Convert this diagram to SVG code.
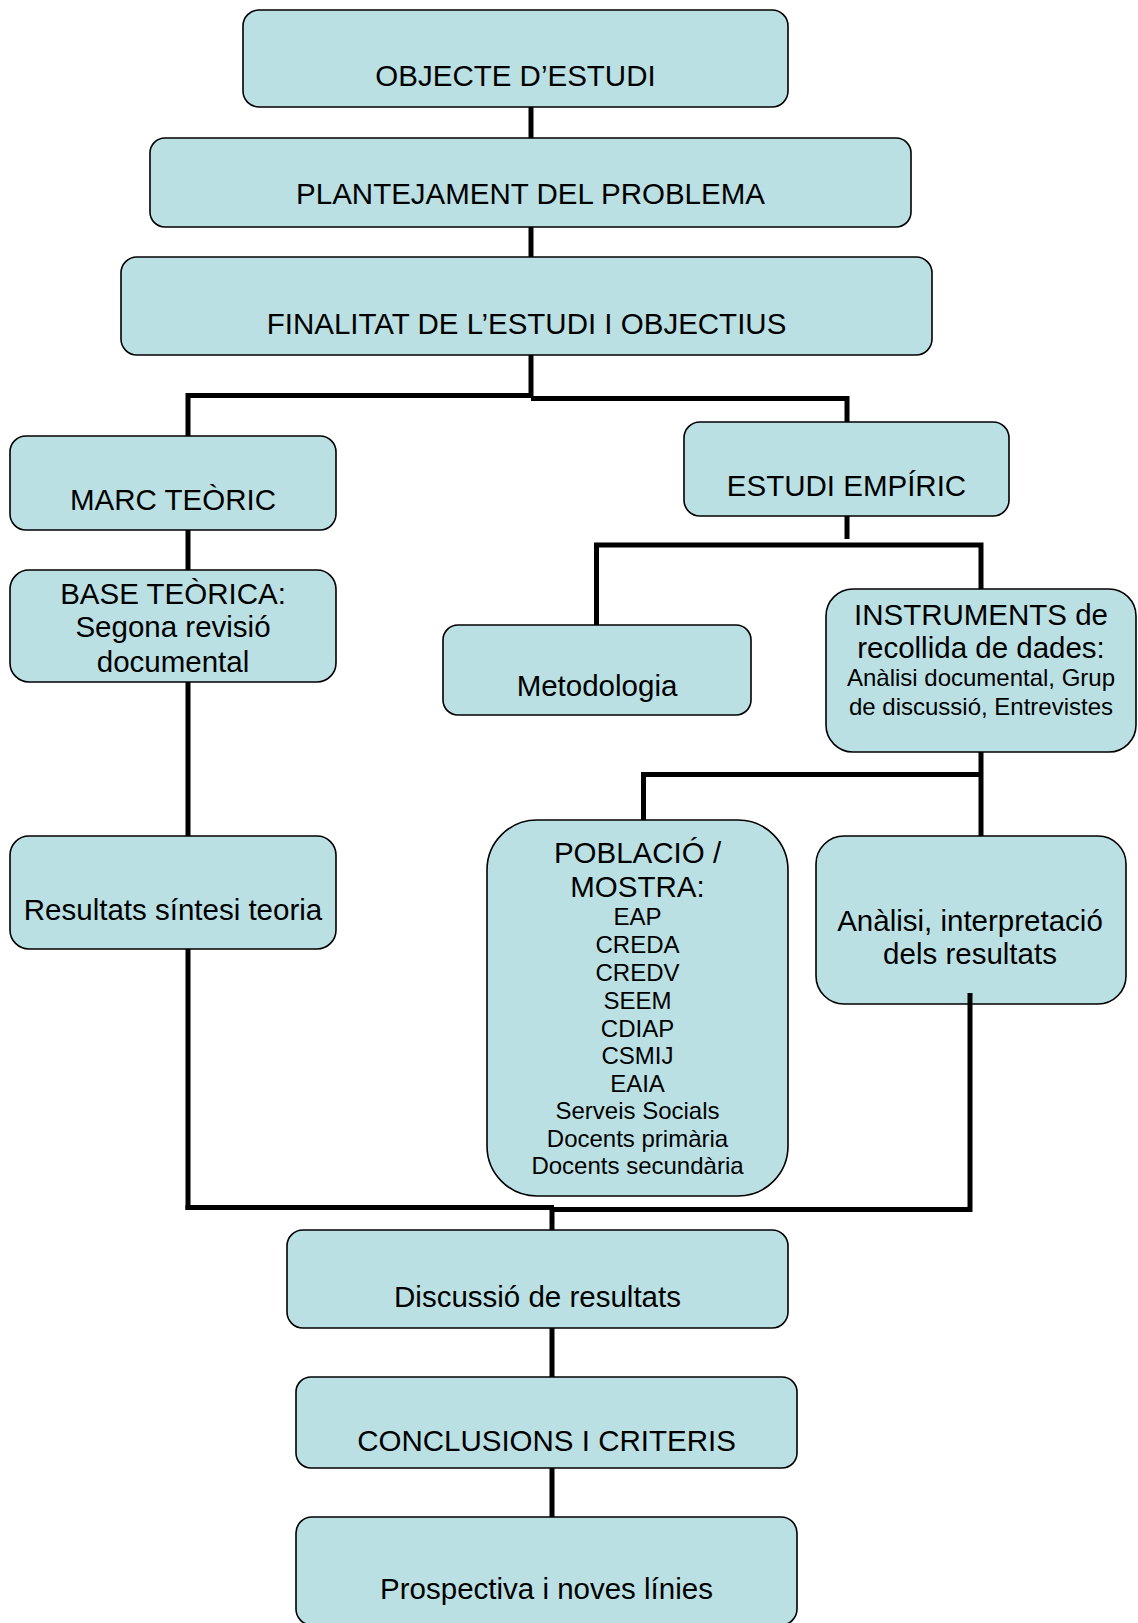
<svg xmlns="http://www.w3.org/2000/svg" width="1138" height="1623" viewBox="0 0 1138 1623">
  <style>
    .box { fill: #BBE0E3; stroke: #000; stroke-width: 1.6; }
    .lbl { font-family: "Liberation Sans", Arial, sans-serif; font-size: 29.5px; fill: #000; text-anchor: middle; }
    .sm { font-size: 24px; }
    .wire { fill: none; stroke: #000; stroke-width: 5; stroke-linecap: butt; }
  </style>
  <rect width="1138" height="1623" fill="#fff"/>

  <!-- connectors -->
  <g id="connectors">
    <line class="wire" x1="531" y1="107" x2="531" y2="138"/>
    <line class="wire" x1="531" y1="227" x2="531" y2="257"/>
    <line class="wire" x1="531" y1="355" x2="531" y2="398"/>
    <!-- split to the two study branches -->
    <polyline class="wire" points="188,436 188,395.5 531,395.5"/>
    <polyline class="wire" points="531,398.5 847,398.5 847,422"/>
    <!-- theory column -->
    <line class="wire" x1="188" y1="530" x2="188" y2="570"/>
    <line class="wire" x1="188" y1="682" x2="188" y2="836"/>
    <line class="wire" x1="188" y1="949" x2="188" y2="1210"/>
    <!-- empirical branch -->
    <line class="wire" x1="847" y1="516" x2="847" y2="539"/>
    <polyline class="wire" points="596.5,625 596.5,545 981,545 981,589"/>
    <polyline class="wire" points="643.5,820 643.5,774.5 981,774.5"/>
    <line class="wire" x1="981" y1="752" x2="981" y2="836"/>
    <!-- merge into discussion -->
    <line class="wire" x1="185.5" y1="1207.5" x2="554" y2="1207.5"/>
    <polyline class="wire" points="550,1209.5 970,1209.5 970,993"/>
    <line class="wire" x1="552" y1="1207" x2="552" y2="1230"/>
    <line class="wire" x1="552" y1="1328" x2="552" y2="1377"/>
    <line class="wire" x1="552" y1="1468" x2="552" y2="1517"/>
  </g>

  <g id="objecte">
    <rect class="box" x="243" y="10" width="545" height="97" rx="16"/>
    <text class="lbl" x="515.5" y="86">OBJECTE D’ESTUDI</text>
  </g>
  <g id="plantejament">
    <rect class="box" x="150" y="138" width="761" height="89" rx="15"/>
    <text class="lbl" x="530.5" y="204">PLANTEJAMENT DEL PROBLEMA</text>
  </g>
  <g id="finalitat">
    <rect class="box" x="121" y="257" width="811" height="98" rx="16"/>
    <text class="lbl" x="526.5" y="334">FINALITAT DE L’ESTUDI I OBJECTIUS</text>
  </g>
  <g id="marc-teoric">
    <rect class="box" x="10" y="436" width="326" height="94" rx="16"/>
    <text class="lbl" x="173" y="510">MARC TEÒRIC</text>
  </g>
  <g id="estudi-empiric">
    <rect class="box" x="684" y="422" width="325" height="94" rx="16"/>
    <text class="lbl" x="846.5" y="496">ESTUDI EMPÍRIC</text>
  </g>
  <g id="base-teorica">
    <rect class="box" x="10" y="570" width="326" height="112" rx="19"/>
    <text class="lbl" x="173" y="604">BASE TEÒRICA:</text>
    <text class="lbl" x="173" y="637">Segona revisió</text>
    <text class="lbl" x="173" y="672">documental</text>
  </g>
  <g id="metodologia">
    <rect class="box" x="443" y="625" width="308" height="90" rx="15"/>
    <text class="lbl" x="597" y="696">Metodologia</text>
  </g>
  <g id="instruments">
    <rect class="box" x="826" y="589" width="310" height="163" rx="27"/>
    <text class="lbl" x="981" y="625">INSTRUMENTS de</text>
    <text class="lbl" x="981" y="658">recollida de dades:</text>
    <text class="lbl sm" x="981" y="686">Anàlisi documental, Grup</text>
    <text class="lbl sm" x="981" y="715">de discussió, Entrevistes</text>
  </g>
  <g id="resultats-sintesi">
    <rect class="box" x="10" y="836" width="326" height="113" rx="19"/>
    <text class="lbl" x="173" y="920">Resultats síntesi teoria</text>
  </g>
  <g id="poblacio">
    <rect class="box" x="487" y="820" width="301" height="376" rx="50"/>
    <text class="lbl" x="637.5" y="863">POBLACIÓ /</text>
    <text class="lbl" x="637.5" y="897">MOSTRA:</text>
    <text class="lbl sm" x="637.5" y="925">EAP</text>
    <text class="lbl sm" x="637.5" y="953">CREDA</text>
    <text class="lbl sm" x="637.5" y="981">CREDV</text>
    <text class="lbl sm" x="637.5" y="1009">SEEM</text>
    <text class="lbl sm" x="637.5" y="1037">CDIAP</text>
    <text class="lbl sm" x="637.5" y="1064">CSMIJ</text>
    <text class="lbl sm" x="637.5" y="1092">EAIA</text>
    <text class="lbl sm" x="637.5" y="1119">Serveis Socials</text>
    <text class="lbl sm" x="637.5" y="1147">Docents primària</text>
    <text class="lbl sm" x="637.5" y="1174">Docents secundària</text>
  </g>
  <g id="analisi">
    <rect class="box" x="816" y="836" width="310" height="168" rx="28"/>
    <text class="lbl" x="970" y="931">Anàlisi, interpretació</text>
    <text class="lbl" x="970" y="964">dels resultats</text>
  </g>
  <!-- the result line starts inside the analysis box -->
  <line class="wire" x1="970" y1="993" x2="970" y2="1004"/>
  <g id="discussio">
    <rect class="box" x="287" y="1230" width="501" height="98" rx="16"/>
    <text class="lbl" x="537.5" y="1307">Discussió de resultats</text>
  </g>
  <g id="conclusions">
    <rect class="box" x="296" y="1377" width="501" height="91" rx="15"/>
    <text class="lbl" x="546.5" y="1451">CONCLUSIONS I CRITERIS</text>
  </g>
  <g id="prospectiva">
    <rect class="box" x="296" y="1517" width="501" height="108" rx="16"/>
    <text class="lbl" x="546.5" y="1599">Prospectiva i noves línies</text>
  </g>
</svg>
